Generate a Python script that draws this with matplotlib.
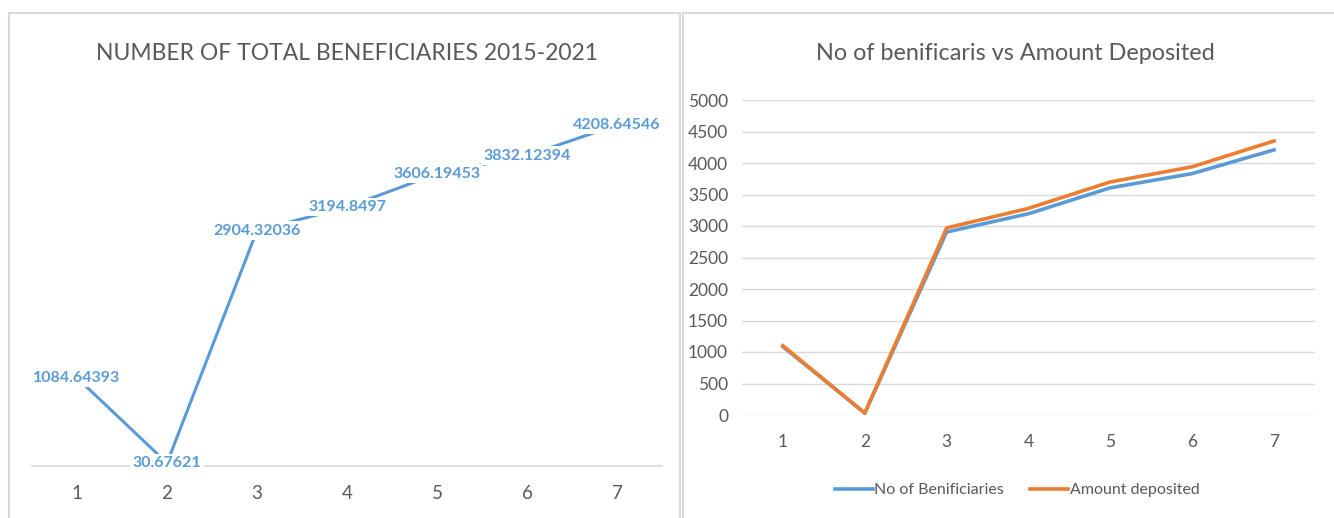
import matplotlib
matplotlib.use('Agg')
from matplotlib import pyplot as plt
from matplotlib.patches import Rectangle

# data
periods = [1, 2, 3, 4, 5, 6, 7]
tick_labels = ['1', '2', '3', '4', '5', '6', '7']
beneficiaries = [1084.64393, 30.67621, 2904.32036, 3194.8497, 3606.19453, 3832.12394, 4208.64546]
label_text = ['1084.64393', '30.67621', '2904.32036', '3194.8497', '3606.19453', '3832.12394', '4208.64546']
amount_deposited = [1100, 30, 2970, 3280, 3700, 3940, 4350]
left_title = 'NUMBER OF TOTAL BENEFICIARIES 2015-2021'
right_title = 'No of benificaris vs Amount Deposited'
right_yticks = [0, 500, 1000, 1500, 2000, 2500, 3000, 3500, 4000, 4500, 5000]

W, H = 1334, 518
BLUE = '#5B9BD5'
ORANGE = '#ED7D31'
GREY = '#595959'
GRID = '#D9D9D9'

plt.rcParams['font.family'] = ['Lato', 'DejaVu Sans']

fig = plt.figure(figsize=(W / 100, H / 100), dpi=100)
fig.patch.set_facecolor('white')


def px_axes(x0, x1, ytop, ybot):
    return fig.add_axes([x0 / W, (H - ybot) / H, (x1 - x0) / W, (ybot - ytop) / H])


# panel frames
fig.add_artist(Rectangle((9 / W, -0.05), (680 - 9) / W, (H - 13) / H + 0.05,
                         transform=fig.transFigure, fill=False, edgecolor=GRID, lw=1.5))
fig.add_artist(Rectangle((683 / W, -0.05), (W - 683 + 5) / W, (H - 13) / H + 0.05,
                         transform=fig.transFigure, fill=False, edgecolor=GRID, lw=1.5))

# ---- left chart
ax1 = px_axes(32, 662, 101.5, 465.5)
ax1.plot(periods, beneficiaries, color=BLUE, lw=2.2, zorder=2)
for x, v, t in zip(periods, beneficiaries, label_text):
    ax1.text(x, v, t, ha='center', va='center', color=BLUE, fontsize=11.5, fontweight='bold', zorder=4,
             bbox=dict(boxstyle='square,pad=0.15', fc='white', ec='none'))
ax1.set_xlim(0.5, 7.5)
ax1.set_ylim(0, 4500)
ax1.set_xticks(periods)
ax1.set_xticklabels(tick_labels)
ax1.set_yticks([])
for s in ['top', 'left', 'right']:
    ax1.spines[s].set_visible(False)
ax1.spines['bottom'].set_color(GRID)
ax1.spines['bottom'].set_linewidth(1.2)
ax1.spines['bottom'].set_zorder(1)
ax1.tick_params(axis='x', length=0, pad=14, labelsize=13.5, labelcolor=GREY)
ax1.patch.set_alpha(0)
fig.text(347 / W, 1 - 53 / H, left_title, ha='center', va='center', fontsize=16.5, color=GREY)

# ---- right chart
ax2 = px_axes(742, 1315, 100, 415)
ax2.plot(periods, beneficiaries, color=BLUE, lw=2.6, label='No of Benificiaries', zorder=3)
ax2.plot(periods, amount_deposited, color=ORANGE, lw=2.6, label='Amount deposited', zorder=4)
ax2.set_xlim(0.5, 7.5)
ax2.set_ylim(0, 5000)
ax2.set_xticks(periods)
ax2.set_xticklabels(tick_labels)
ax2.set_yticks(right_yticks)
ax2.grid(axis='y', color=GRID, lw=1)
for s in ['top', 'left', 'right', 'bottom']:
    ax2.spines[s].set_visible(False)
ax2.tick_params(axis='both', length=0, labelsize=12.5, labelcolor=GREY)
ax2.tick_params(axis='x', pad=14)
ax2.tick_params(axis='y', pad=10)
fig.text(1015 / W, 1 - 53 / H, right_title, ha='center', va='center', fontsize=16.8, color=GREY)
fig.legend(*ax2.get_legend_handles_labels(), loc='center', bbox_to_anchor=(1017 / W, 1 - 490 / H),
           ncol=2, frameon=False, fontsize=11.5, handlelength=2.4, handletextpad=0.1,
           columnspacing=1.6, labelcolor=GREY)

fig.savefig('out.png', dpi=100)
